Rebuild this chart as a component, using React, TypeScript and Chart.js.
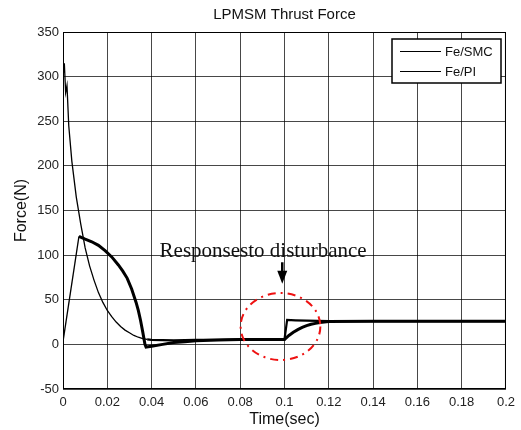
import React, { useEffect, useRef } from "react";
import { Chart, registerables } from "chart.js";

Chart.register(...registerables);

// ---- data ----
const timeSMC = [0, 0.0006, 0.0012, 0.0018, 0.0026, 0.004, 0.006, 0.008, 0.010, 0.012, 0.014, 0.016, 0.018, 0.020, 0.022, 0.024, 0.026, 0.028, 0.030, 0.032, 0.034, 0.036, 0.038, 0.040, 0.050, 0.060, 0.070, 0.080, 0.090, 0.1000, 0.1012, 0.105, 0.110, 0.120, 0.140, 0.160, 0.180, 0.200];
const forceSMC = [300, 315, 282, 290, 245, 205, 165, 135, 108, 88, 72, 58, 47, 38, 31, 25, 20, 16, 13, 10, 8, 6.5, 5.5, 5, 4.5, 5, 5, 5.5, 5.5, 5.5, 27.5, 27, 26.5, 26, 26, 26, 26, 26];

const timePI = [0, 0.0072, 0.010, 0.013, 0.016, 0.019, 0.022, 0.025, 0.027, 0.029, 0.031, 0.033, 0.034, 0.035, 0.036, 0.037, 0.0375, 0.040, 0.045, 0.050, 0.055, 0.060, 0.070, 0.080, 0.090, 0.100, 0.102, 0.104, 0.106, 0.108, 0.110, 0.112, 0.114, 0.116, 0.118, 0.120, 0.140, 0.160, 0.180, 0.200];
const forcePI = [3, 121, 118, 115, 111, 105, 98, 89, 82, 74, 62, 47, 38, 27, 14, 0, -3, -2, 0, 2, 3, 4, 5, 5.5, 5.5, 5.5, 10, 13.5, 16.5, 19, 21, 22.5, 23.5, 24.5, 25, 25.5, 26, 26, 26, 26];

const xTicks = [0, 0.02, 0.04, 0.06, 0.08, 0.1, 0.12, 0.14, 0.16, 0.18, 0.2];
const xTickLabels = ["0", "0.02", "0.04", "0.06", "0.08", "0.1", "0.12", "0.14", "0.16", "0.18", "0.2"];
const yTicks = [-50, 0, 50, 100, 150, 200, 250, 300, 350];
const yTickLabels = ["-50", "0", "50", "100", "150", "200", "250", "300", "350"];

const seriesLabels = ["Fe/SMC", "Fe/PI"];
const titleText = "LPMSM Thrust Force";
const xTitle = "Time(sec)";
const yTitle = "Force(N)";
const annotationText = "Responsesto disturbance";
// annotation anchors in data units
const annotationAt = { x: 0.0436, y: 97.5 };
const arrowFrom = { x: 0.099, y: 92 };
const arrowTo = { x: 0.099, y: 68 };
const ellipseCenter = { x: 0.0982, y: 20 };
const ellipseRadius = { x: 0.018, y: 37.5 };

const SANS = "'Liberation Sans', Arial, sans-serif";
const SERIF = "'Liberation Serif', 'Times New Roman', serif";

const overlayPlugin = {
  id: "overlay",
  afterDraw(chart: any) {
    const { ctx, chartArea: a, scales } = chart;
    const xs = scales.x;
    const ys = scales.y;
    ctx.save();
    // frame
    ctx.strokeStyle = "#000";
    ctx.lineWidth = 1;
    ctx.strokeRect(a.left + 0.5, a.top + 0.5, a.right - a.left - 1, a.bottom - a.top - 1);

    // title
    ctx.fillStyle = "#111";
    ctx.font = `15px ${SANS}`;
    ctx.textAlign = "center";
    ctx.textBaseline = "middle";
    ctx.fillText(titleText, (a.left + a.right) / 2, 15);

    // axis titles
    ctx.font = `16px ${SANS}`;
    ctx.fillText(xTitle, (a.left + a.right) / 2, 420);
    ctx.save();
    ctx.translate(22, (a.top + a.bottom) / 2);
    ctx.rotate(-Math.PI / 2);
    ctx.fillText(yTitle, 0, 0);
    ctx.restore();

    // legend
    const lx = 392, ly = 39, lw = 109, lh = 44;
    ctx.fillStyle = "#fff";
    ctx.fillRect(lx, ly, lw, lh);
    ctx.strokeStyle = "#000";
    ctx.lineWidth = 1.5;
    ctx.strokeRect(lx, ly, lw, lh);
    ctx.lineWidth = 1;
    ctx.font = `13px ${SANS}`;
    ctx.textAlign = "left";
    ctx.fillStyle = "#111";
    seriesLabels.forEach((lab, i) => {
      const yy = ly + 12 + i * 20;
      ctx.beginPath();
      ctx.moveTo(lx + 8, yy + 0.5);
      ctx.lineTo(lx + 49, yy + 0.5);
      ctx.stroke();
      ctx.fillText(lab, lx + 53, yy + 1);
    });

    // annotation text
    ctx.font = `21px ${SERIF}`;
    ctx.textBaseline = "alphabetic";
    ctx.fillStyle = "#111";
    ctx.fillText(annotationText, xs.getPixelForValue(annotationAt.x), ys.getPixelForValue(annotationAt.y));

    // arrow
    const ax = xs.getPixelForValue(arrowFrom.x);
    const ay1 = ys.getPixelForValue(arrowFrom.y);
    const ay2 = ys.getPixelForValue(arrowTo.y);
    ctx.strokeStyle = "#000";
    ctx.lineWidth = 2.5;
    ctx.beginPath();
    ctx.moveTo(ax, ay1);
    ctx.lineTo(ax, ay2 - 10);
    ctx.stroke();
    ctx.fillStyle = "#000";
    ctx.beginPath();
    ctx.moveTo(ax - 5, ay2 - 13);
    ctx.lineTo(ax + 5, ay2 - 13);
    ctx.lineTo(ax, ay2);
    ctx.closePath();
    ctx.fill();

    // red dash-dot ellipse
    const cx = xs.getPixelForValue(ellipseCenter.x);
    const cy = ys.getPixelForValue(ellipseCenter.y);
    const rx = xs.getPixelForValue(ellipseCenter.x + ellipseRadius.x) - cx;
    const ry = cy - ys.getPixelForValue(ellipseCenter.y + ellipseRadius.y);
    ctx.strokeStyle = "#ee1111";
    ctx.lineWidth = 2;
    ctx.setLineDash([8, 5, 2, 5]);
    ctx.beginPath();
    ctx.ellipse(cx, cy, rx, ry, 0, 0, Math.PI * 2);
    ctx.stroke();
    ctx.setLineDash([]);
    ctx.restore();
  },
};

export default function App() {
  const ref = useRef<HTMLCanvasElement | null>(null);
  useEffect(() => {
    if (!ref.current) return;
    const gridColor = "rgba(0,0,0,0.72)";
    const chart = new Chart(ref.current, {
      type: "line",
      data: {
        datasets: [
          {
            label: seriesLabels[0],
            data: timeSMC.map((t, i) => ({ x: t, y: forceSMC[i] })),
            borderColor: "#000",
            backgroundColor: "#000",
            pointRadius: 0,
            tension: 0,
            segment: {
              borderWidth: (c: any) => (c.p0.parsed.x >= 0.038 ? 2.2 : 1.3),
            },
          },
          {
            label: seriesLabels[1],
            data: timePI.map((t, i) => ({ x: t, y: forcePI[i] })),
            borderColor: "#000",
            backgroundColor: "#000",
            pointRadius: 0,
            tension: 0,
            segment: {
              borderWidth: (c: any) => (c.p0.parsed.x < 0.007 ? 1.3 : 3),
            },
          },
        ],
      },
      options: {
        responsive: false,
        animation: false,
        devicePixelRatio: 1,
        layout: { padding: { top: 32, right: 14, left: 0, bottom: 0 } },
        plugins: {
          legend: { display: false },
          title: { display: false },
          tooltip: { enabled: false },
        },
        scales: {
          x: {
            type: "linear",
            min: 0,
            max: 0.2,
            afterBuildTicks: (s: any) => {
              s.ticks = xTicks.map((v) => ({ value: v }));
            },
            afterFit: (s: any) => {
              s.height = 41;
            },
            grid: { color: gridColor, drawTicks: false, lineWidth: 1 },
            border: { display: false },
            ticks: {
              padding: 6,
              maxRotation: 0,
              autoSkip: false,
              color: "#222",
              font: { family: SANS, size: 13 },
              callback: (_v: any, i: number) => xTickLabels[i],
            },
          },
          y: {
            type: "linear",
            min: -50,
            max: 350,
            afterBuildTicks: (s: any) => {
              s.ticks = yTicks.map((v) => ({ value: v }));
            },
            afterFit: (s: any) => {
              s.width = 63;
            },
            grid: { color: gridColor, drawTicks: false, lineWidth: 1 },
            border: { display: false },
            ticks: {
              padding: 4,
              autoSkip: false,
              color: "#222",
              font: { family: SANS, size: 13 },
              callback: (_v: any, i: number) => yTickLabels[i],
            },
          },
        },
      },
      plugins: [overlayPlugin],
    } as any);
    return () => chart.destroy();
  }, []);
  return (
    <div style={{ position: "fixed", left: 0, top: 0, width: 521, height: 430, background: "#fff" }}>
      <canvas ref={ref} width={521} height={430} style={{ display: "block" }} />
    </div>
  );
}
